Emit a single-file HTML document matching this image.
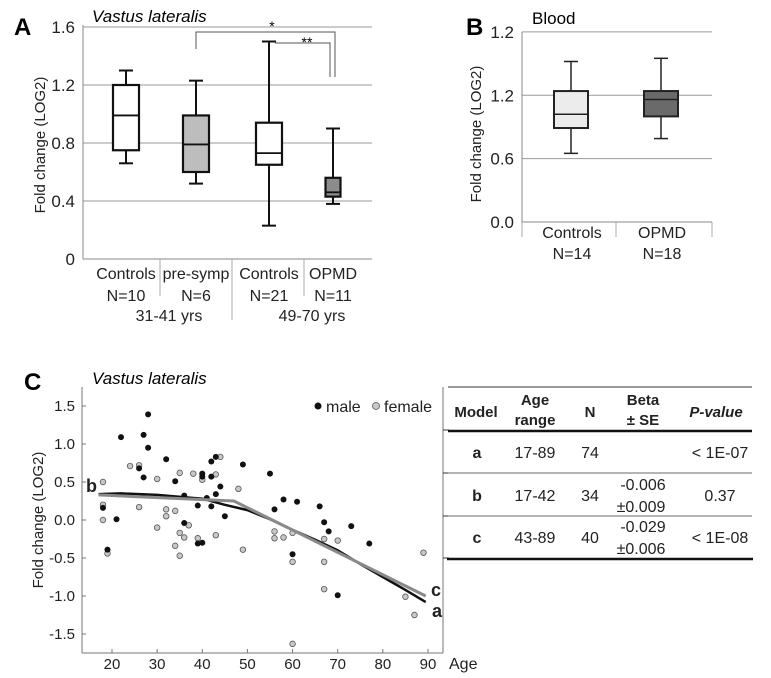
<!DOCTYPE html>
<html><head><meta charset="utf-8"><style>
html,body{margin:0;padding:0;background:#fff;}
svg{display:block;font-family:"Liberation Sans",sans-serif;}
</style></head><body>
<svg id="fig" width="771" height="678" viewBox="0 0 771 678" xmlns="http://www.w3.org/2000/svg">
<text x="14" y="35" font-size="24" font-weight="bold">A</text>
<text x="92" y="22" font-size="17" font-style="italic">Vastus lateralis</text>
<text transform="translate(45,145) rotate(-90)" text-anchor="middle" font-size="15" fill="#222">Fold change (LOG2)</text>
<text x="466" y="35" font-size="24" font-weight="bold">B</text>
<text x="532" y="24" font-size="17">Blood</text>
<text transform="translate(481,134) rotate(-90)" text-anchor="middle" font-size="15" fill="#222">Fold change (LOG2)</text>
<text x="24" y="390" font-size="24" font-weight="bold">C</text>
<text x="92" y="384" font-size="17" font-style="italic">Vastus lateralis</text>
<text transform="translate(43,520) rotate(-90)" text-anchor="middle" font-size="15" fill="#222">Fold change (LOG2)</text>
<g id="ga"></g><g id="gb"></g><g id="gc"></g><g id="gt"></g>
</svg>
<script>
// ---- Panel A data
const aCategories = ["Controls","pre-symp","Controls","OPMD"];
const aCounts = ["N=10","N=6","N=21","N=11"];
const aWhiskerHigh = [1.30,1.23,1.50,0.90];
const aQ3 = [1.20,0.99,0.94,0.56];
const aMedian = [0.99,0.79,0.73,0.46];
const aQ1 = [0.75,0.60,0.65,0.43];
const aWhiskerLow = [0.66,0.52,0.23,0.38];
const aFills = ["#ffffff","#bdbdbd","#ffffff","#8c8c8c"];
const aTicks = [0,0.4,0.8,1.2,1.6];
const aTickLabels = ["0","0.4","0.8","1.2","1.6"];
// ---- Panel B data
const bCategories = ["Controls","OPMD"];
const bCounts = ["N=14","N=18"];
const bWhiskerHigh = [1.52,1.55];
const bQ3 = [1.24,1.24];
const bMedian = [1.02,1.16];
const bQ1 = [0.89,1.00];
const bWhiskerLow = [0.65,0.79];
const bFills = ["#ececec","#6a6a6a"];
const bTicks = [0,0.6,1.2,1.8];
const bTickLabels = ["0.0","0.6","1.2","1.2"];
// ---- Panel C data
const maleAge = [18,22,21,19,26,27,28,28,27,32,34,36,36,39,39,40,40,40,41,42,42,42,43,43,44,45,49,55,56,58,60,61,66,67,68,70,73,77];
const maleVal = [0.16,1.09,0.01,-0.39,0.68,1.12,1.39,0.95,0.56,0.80,0.51,0.32,-0.04,0.19,-0.31,-0.30,0.61,0.57,0.29,0.77,0.57,0.18,0.83,0.34,0.44,0.05,0.73,0.61,0.14,0.27,-0.45,0.24,0.18,-0.03,-0.15,-0.99,-0.08,-0.31];
const femaleAge = [18,18,18,19,24,26,26,30,30,32,32,34,34,35,35,35,36,37,38,39,40,43,43,44,48,49,56,56,58,60,60,60,67,67,67,70,85,87,89];
const femaleVal = [0.50,0.20,0.00,-0.44,0.71,0.72,0.17,0.54,-0.10,0.14,0.05,0.12,-0.34,0.62,-0.17,-0.47,-0.23,-0.07,0.61,-0.24,0.53,0.60,-0.20,0.83,0.41,-0.39,-0.15,-0.24,-0.23,-0.17,-0.55,-1.63,-0.25,-0.55,-0.91,-0.27,-1.01,-1.25,-0.43];
const fitAAge = [17,22,30,40,45,50,55,60,65,70,75,80,85,89.5];
const fitAVal = [0.34,0.35,0.33,0.28,0.20,0.13,0.01,-0.13,-0.26,-0.40,-0.58,-0.75,-0.92,-1.08];
const fitBCAge = [17,47,89.5];
const fitBCVal = [0.33,0.25,-1.0];
const cXTicks = [20,30,40,50,60,70,80,90];
const cYTicks = [1.5,1.0,0.5,0.0,-0.5,-1.0,-1.5];
const cYTickLabels = ["1.5","1.0","0.5","0.0","-0.5","-1.0","-1.5"];
// ---- Table data
const tModels = ["a","b","c"];
const tRanges = ["17-89","17-42","43-89"];
const tN = ["74","34","40"];
const tBeta1 = ["","-0.006","-0.029"];
const tBeta2 = ["","±0.009","±0.006"];
const tP = ["< 1E-07","0.37","< 1E-08"];

const NS="http://www.w3.org/2000/svg";
function mk(parent,tag,attrs,text){const e=document.createElementNS(NS,tag);for(const k in attrs)e.setAttribute(k,attrs[k]);if(text!==undefined)e.textContent=text;parent.appendChild(e);return e;}

// ===== Panel A
(function(){
const g=document.getElementById('ga');
const y=v=>259-v*145;
const x0=83,x1=372;
const centers=[126,196,269,333];
const widths=[26,26,26,15];
aTicks.forEach((t,i)=>{
  if(t>0){const l=mk(g,'line',{x1:x0,x2:x1,y1:y(t),y2:y(t),stroke:'#999','stroke-width':1});
  
  }
  const tx=mk(g,'text',{x:75,y:y(t)+6,'text-anchor':'end','font-size':17,fill:'#222'},aTickLabels[i]);
  
  
});
mk(g,'line',{x1:x0,x2:x0,y1:y(1.6)-2,y2:y(0),stroke:'#888','stroke-width':1});
mk(g,'line',{x1:x0,x2:x1,y1:y(0),y2:y(0),stroke:'#888','stroke-width':1});
[[160,296],[232,320],[304,296]].forEach(d=>mk(g,'line',{x1:d[0],x2:d[0],y1:y(0),y2:d[1],stroke:'#aaa','stroke-width':1}));
aCategories.forEach((c,i)=>{
  const cx=centers[i],w=widths[i];
  const grp=mk(g,'g',{});
  
  
  mk(grp,'line',{x1:cx,x2:cx,y1:y(aWhiskerHigh[i]),y2:y(aQ3[i]),stroke:'#111','stroke-width':2});
  mk(grp,'line',{x1:cx,x2:cx,y1:y(aQ1[i]),y2:y(aWhiskerLow[i]),stroke:'#111','stroke-width':2});
  mk(grp,'line',{x1:cx-7,x2:cx+7,y1:y(aWhiskerHigh[i]),y2:y(aWhiskerHigh[i]),stroke:'#111','stroke-width':2});
  mk(grp,'line',{x1:cx-7,x2:cx+7,y1:y(aWhiskerLow[i]),y2:y(aWhiskerLow[i]),stroke:'#111','stroke-width':2});
  mk(grp,'rect',{x:cx-w/2,y:y(aQ3[i]),width:w,height:y(aQ1[i])-y(aQ3[i]),fill:aFills[i],stroke:'#111','stroke-width':2.2});
  mk(grp,'line',{x1:cx-w/2,x2:cx+w/2,y1:y(aMedian[i]),y2:y(aMedian[i]),stroke:'#111','stroke-width':1.8});
  const t1=mk(g,'text',{x:cx,y:279,'text-anchor':'middle','font-size':16,fill:'#222'},c);
  
  
  const t2=mk(g,'text',{x:cx,y:301,'text-anchor':'middle','font-size':16,fill:'#222'},aCounts[i]);
  
  
});
const g1=mk(g,'text',{x:169,y:321,'text-anchor':'middle','font-size':16,fill:'#222'},'31-41 yrs');


const g2=mk(g,'text',{x:312,y:321,'text-anchor':'middle','font-size':16,fill:'#222'},'49-70 yrs');


mk(g,'polyline',{points:'196,49 196,32 335,32 335,77',fill:'none',stroke:'#555','stroke-width':1});
mk(g,'polyline',{points:'275,43 330,43 330,77',fill:'none',stroke:'#555','stroke-width':1});
const s1=mk(g,'text',{x:272,y:31,'text-anchor':'middle','font-size':14},'*');


const s2=mk(g,'text',{x:307,y:47,'text-anchor':'middle','font-size':14},'**');


})();

// ===== Panel B
(function(){
const g=document.getElementById('gb');
const y=v=>222-v*105.6;
const x0=522,x1=712;
const centers=[571,661];
bTicks.forEach((t,i)=>{
  if(t>0){const l=mk(g,'line',{x1:x0,x2:x1,y1:y(t),y2:y(t),stroke:'#999','stroke-width':1});
  
  }
  const tx=mk(g,'text',{x:514,y:y(t)+6,'text-anchor':'end','font-size':17,fill:'#222'},bTickLabels[i]);
  
  
});
mk(g,'line',{x1:x0,x2:x0,y1:y(1.8),y2:y(0),stroke:'#888','stroke-width':1});
mk(g,'line',{x1:x0,x2:x1,y1:y(0),y2:y(0),stroke:'#888','stroke-width':1});
[522,616,712].forEach(px=>mk(g,'line',{x1:px,x2:px,y1:y(0),y2:237,stroke:'#aaa','stroke-width':1}));
bCategories.forEach((c,i)=>{
  const cx=centers[i],w=34;
  const grp=mk(g,'g',{});
  
  
  mk(grp,'line',{x1:cx,x2:cx,y1:y(bWhiskerHigh[i]),y2:y(bQ3[i]),stroke:'#222','stroke-width':1.5});
  mk(grp,'line',{x1:cx,x2:cx,y1:y(bQ1[i]),y2:y(bWhiskerLow[i]),stroke:'#222','stroke-width':1.5});
  mk(grp,'line',{x1:cx-7,x2:cx+7,y1:y(bWhiskerHigh[i]),y2:y(bWhiskerHigh[i]),stroke:'#222','stroke-width':1.5});
  mk(grp,'line',{x1:cx-7,x2:cx+7,y1:y(bWhiskerLow[i]),y2:y(bWhiskerLow[i]),stroke:'#222','stroke-width':1.5});
  mk(grp,'rect',{x:cx-w/2,y:y(bQ3[i]),width:w,height:y(bQ1[i])-y(bQ3[i]),fill:bFills[i],stroke:'#222','stroke-width':2});
  mk(grp,'line',{x1:cx-w/2,x2:cx+w/2,y1:y(bMedian[i]),y2:y(bMedian[i]),stroke:'#222','stroke-width':1.5});
  const t1=mk(g,'text',{x:cx+1,y:238,'text-anchor':'middle','font-size':16,fill:'#222'},c);
  
  
  const t2=mk(g,'text',{x:cx+1,y:259,'text-anchor':'middle','font-size':16,fill:'#222'},bCounts[i]);
  
  
});
})();

// ===== Panel C
(function(){
const g=document.getElementById('gc');
const x=a=>112+(a-20)*4.514;
const y=v=>520-v*76;
mk(g,'line',{x1:82,x2:82,y1:387,y2:653,stroke:'#777','stroke-width':1});
mk(g,'line',{x1:82,x2:443,y1:653,y2:653,stroke:'#777','stroke-width':1});
mk(g,'line',{x1:443,x2:443,y1:387,y2:653,stroke:'#777','stroke-width':1});
[430,473,516,558].forEach(py=>mk(g,'line',{x1:443,x2:449,y1:py,y2:py,stroke:'#333','stroke-width':1}));
cYTicks.forEach((t,i)=>{
  mk(g,'line',{x1:82,x2:86,y1:y(t),y2:y(t),stroke:'#777','stroke-width':1});
  const tx=mk(g,'text',{x:75,y:y(t)+5,'text-anchor':'end','font-size':15,fill:'#222'},cYTickLabels[i]);
  
  
});
cXTicks.forEach(t=>{
  mk(g,'line',{x1:x(t),x2:x(t),y1:649,y2:653,stroke:'#777','stroke-width':1});
  const tx=mk(g,'text',{x:x(t),y:669,'text-anchor':'middle','font-size':15,fill:'#222'},String(t));
  
  
});
const ag=mk(g,'text',{x:449,y:669,'font-size':16,fill:'#222'},'Age');


femaleAge.forEach((a,i)=>{
  const c=mk(g,'circle',{cx:x(a),cy:y(femaleVal[i]),r:2.8,fill:'#c8c8c8',stroke:'#555','stroke-width':0.8});
  
  
});
maleAge.forEach((a,i)=>{
  const c=mk(g,'circle',{cx:x(a),cy:y(maleVal[i]),r:3,fill:'#111'});
  
  
});
const la=mk(g,'polyline',{points:fitAAge.map((a,i)=>x(a)+','+y(fitAVal[i])).join(' '),fill:'none',stroke:'#111','stroke-width':2.5});


const lb=mk(g,'polyline',{points:fitBCAge.map((a,i)=>x(a)+','+y(fitBCVal[i])).join(' '),fill:'none',stroke:'#8a8a8a','stroke-width':3});


[['b',86,492,'label-b'],['c',431,596,'label-c'],['a',432,617,'label-a']].forEach(d=>{
  const t=mk(g,'text',{x:d[1],y:d[2],'font-size':18,'font-weight':'bold',fill:'#222'},d[0]);
  
  
});
const lg=mk(g,'g',{});


mk(lg,'circle',{cx:318,cy:406,r:3.5,fill:'#111'});
mk(lg,'text',{x:326,y:412,'font-size':16,fill:'#222'},'male');
mk(lg,'circle',{cx:376,cy:406,r:3.5,fill:'#c8c8c8',stroke:'#555','stroke-width':0.8});
mk(lg,'text',{x:384,y:412,'font-size':16,fill:'#222'},'female');
})();

// ===== Table
(function(){
const g=document.getElementById('gt');


mk(g,'line',{x1:448,x2:752,y1:387,y2:387,stroke:'#333','stroke-width':1});
mk(g,'line',{x1:448,x2:752,y1:431,y2:431,stroke:'#111','stroke-width':2.5});
mk(g,'line',{x1:448,x2:752,y1:473,y2:473,stroke:'#888','stroke-width':1.2});
mk(g,'line',{x1:448,x2:752,y1:516,y2:516,stroke:'#888','stroke-width':1.2});
mk(g,'line',{x1:447,x2:753,y1:559,y2:559,stroke:'#111','stroke-width':2.5});
const hs={'font-size':15,'font-weight':'bold','text-anchor':'middle',fill:'#222'};
mk(g,'text',Object.assign({x:476,y:417},hs),'Model');
mk(g,'text',Object.assign({x:535,y:405},hs),'Age');
mk(g,'text',Object.assign({x:535,y:425},hs),'range');
mk(g,'text',Object.assign({x:590,y:417},hs),'N');
mk(g,'text',Object.assign({x:643,y:405},hs),'Beta');
mk(g,'text',Object.assign({x:643,y:425},hs),'± SE');
mk(g,'text',Object.assign({x:716,y:417,'font-style':'italic'},hs),'P-value');
const rowY=[452,495,537];
tModels.forEach((m,i)=>{
  const yc=rowY[i];
  const s={'font-size':16,'text-anchor':'middle',fill:'#222'};
  mk(g,'text',Object.assign({x:477,y:yc+6,'font-weight':'bold'},s),m);
  mk(g,'text',Object.assign({x:535,y:yc+6},s),tRanges[i]);
  mk(g,'text',Object.assign({x:590,y:yc+6},s),tN[i]);
  mk(g,'text',Object.assign({x:643,y:yc-5},s),tBeta1[i]);
  mk(g,'text',Object.assign({x:641,y:yc+17},s),tBeta2[i]);
  mk(g,'text',Object.assign({x:720,y:yc+6},s),tP[i]);
});
})();
</script>
</body></html>
